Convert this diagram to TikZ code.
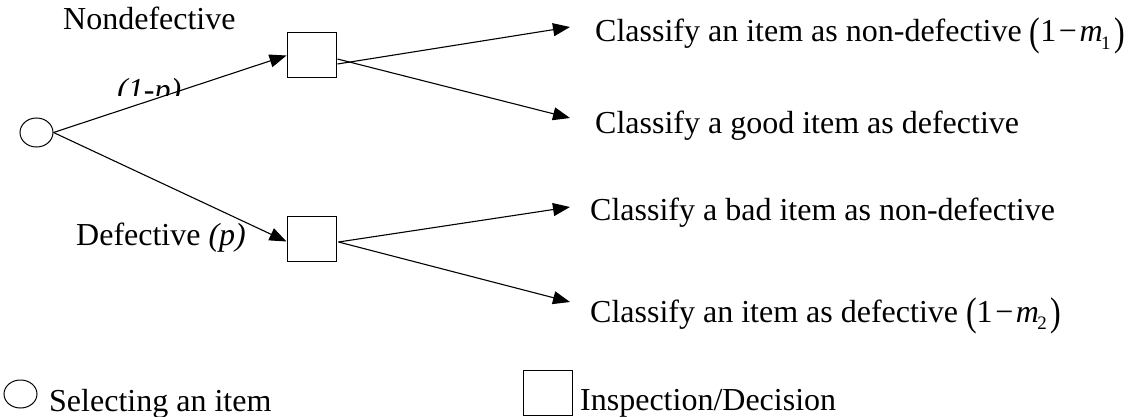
\documentclass[tikz,border=0pt]{standalone}
\usepackage{fontspec}
\usepackage{graphicx}
\setmainfont{Liberation Serif}
\usetikzlibrary{arrows.meta,shapes.geometric,calc}
\newcommand\parL{\raisebox{-0.1em}{\scalebox{1}[1.25]{(}}}
\newcommand\parR{\raisebox{-0.1em}{\scalebox{1}[1.25]{)}}}
\newcommand\mval[1]{\parL 1\kern0.08em−\kern0.08em\textit{m}\kern-0.05em\raisebox{-0.22em}{\fontsize{19}{19}\selectfont #1}\kern0.12em\parR}
\begin{document}
\begin{tikzpicture}[x=1pt,y=-1pt,
  every node/.style={font=\fontsize{32}{38}\selectfont},
  chance/.style={draw,ellipse,line width=1pt,minimum width=33pt,minimum height=29pt,inner sep=0pt},
  decbox/.style={draw,rectangle,line width=1pt,minimum width=49pt,minimum height=45pt,inner sep=0pt},
  lbl/.style={anchor=base west,inner sep=0pt},
  arr/.style={line width=1.1pt,-{Triangle[length=17pt,width=13pt]}}]
\useasboundingbox (0,0) rectangle (1131,417);
% nodes
\node[chance] (c) at (36.5,132.5) {};
\node[decbox] (b1) at (311.5,55.5) {};
\node[decbox] (b2) at (311.5,238.5) {};
\coordinate (t1) at (570,27);
\coordinate (t2) at (570,118);
\coordinate (t3) at (570,207);
\coordinate (t4) at (570,302);
% connectors
\draw[arr] (c.east) -- (b1.west);
\draw[arr] (c.east) -- ($(b2.west)+(0,3)$);
\draw[arr] ($(b1.east)+(1,8.5)$) -- (t1);
\draw[arr] ($(b1.east)+(1,3.5)$) -- (t2);
\draw[arr] ($(b2.east)+(2,3.5)$) -- (t3);
\draw[arr] ($(b2.east)+(2,3.5)$) -- (t4);
% labels
\node[lbl] (nd) at (63,30) {Nondefective};
\begin{scope}
\clip (100,60) rectangle (200,96);
\node[lbl] (omp) at (117,101) {\textit{(1-p)}};
\end{scope}
\node[lbl] (df) at (76,245) {Defective \textit{(p)}};
\node[lbl] (o1) at (595,42) {Classify an item as non-defective \mval{1}};
\node[lbl] (o2) at (595,133) {Classify a good item as defective};
\node[lbl] (o3) at (590,220) {Classify a bad item as non-defective};
\node[lbl] (o4) at (590,322) {Classify an item as defective \mval{2}};
% legend
\node[chance,minimum height=28pt] (lc) at (20.5,394) {};
\node[lbl] (lct) at (49,411) {Selecting an item};
\node[decbox] (lb) at (548,393) {};
\node[lbl] (lbt) at (580,410) {Inspection/Decision};
\end{tikzpicture}
\end{document}
